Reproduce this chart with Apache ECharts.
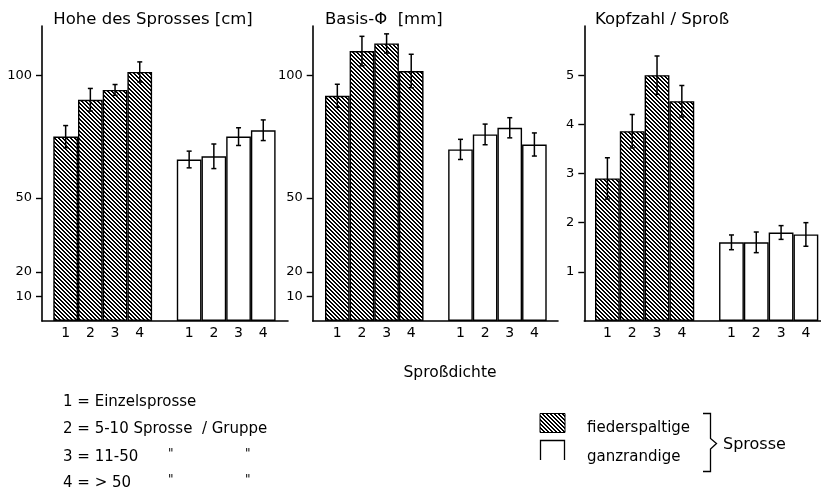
<!DOCTYPE html>
<html>
<head>
<meta charset="utf-8">
<script src="https://cdn.jsdelivr.net/npm/echarts@6/dist/echarts.min.js"></script>
<style>
  html, body { margin: 0; padding: 0; background: #fff; }
  #chart { width: 821px; height: 490px; }
</style>
</head>
<body>
<div id="chart"></div>
<script>
// Sproßdichte classes on the x axis
const categories = ['1', '2', '3', '4'];

// Höhe des Sprosses [cm]
const heightFieder = [75, 90, 94, 101.3];
const heightFiederErr = [4.5, 4.6, 2.2, 4.1];
const heightGanz = [65.7, 67, 75, 77.6];
const heightGanzErr = [3.4, 5, 3.6, 4.2];

// Basis-Φ [mm]
const basisFieder = [91.6, 109.8, 112.9, 101.7];
const basisFiederErr = [4.7, 6, 3.9, 6.8];
const basisGanz = [69.8, 75.9, 78.6, 71.8];
const basisGanzErr = [4.1, 4.2, 4.1, 4.7];

// Kopfzahl / Sproß
const kopfFieder = [2.9, 3.86, 5.0, 4.47];
const kopfFiederErr = [0.42, 0.34, 0.39, 0.32];
const kopfGanz = [1.6, 1.6, 1.8, 1.76];
const kopfGanzErr = [0.15, 0.21, 0.14, 0.24];

// tick labels
const ticksCm = [10, 20, 50, 100];
const ticksKopf = [1, 2, 3, 4, 5];

const titles = ['Hohe des Sprosses [cm]', 'Basis-\u03A6  [mm]', 'Kopfzahl / Sproß'];
const legendLines = ['1 = Einzelsprosse', '2 = 5-10 Sprosse  / Gruppe', '3 = 11-50', '4 = > 50'];

const FONT = '"DejaVu Sans", sans-serif';

// hatching like "\\\\"
function hatch() {
    let c = document.createElement('canvas');
    c.width = 4; c.height = 4;
    let ctx = c.getContext('2d');
    ctx.fillStyle = '#fff';
    ctx.fillRect(0, 0, 4, 4);
    ctx.fillStyle = '#000';
    for (let i = 0; i < 4; i++) {
        ctx.fillRect(i, i, 1, 1);
        ctx.fillRect((i + 1) % 4, i, 1, 1);
    }
    return {image: c, repeat: 'repeat'};
}
const pattern = hatch();

const panels = [
    {fieder: heightFieder, fErr: heightFiederErr, ganz: heightGanz, gErr: heightGanzErr, max: 120, ticks: ticksCm,
     axisL: 42, axisR: 288, barL: 53.3, barR: 275.6},
    {fieder: basisFieder, fErr: basisFiederErr, ganz: basisGanz, gErr: basisGanzErr, max: 120, ticks: ticksCm,
     axisL: 312.7, axisR: 558, barL: 325, barR: 546.7},
    {fieder: kopfFieder, fErr: kopfFiederErr, ganz: kopfGanz, gErr: kopfGanzErr, max: 6, ticks: ticksKopf,
     axisL: 584.3, axisR: 821, barL: 595, barR: 818.3}
];

const TOP = 26, BOTTOM = 169;
const W = 821;
const slots = categories.concat([''], categories);
const gap = ['-', '-', '-', '-', '-'];

let grid = [], xAxis = [], yAxis = [], series = [], graphic = [];

panels.forEach(function (p, k) {
    let outer = 2 * k, inner = 2 * k + 1;
    grid.push({left: p.axisL, right: W - p.axisR, top: TOP, bottom: BOTTOM});
    grid.push({left: p.barL, right: W - p.barR, top: TOP, bottom: BOTTOM});

    xAxis.push({
        gridIndex: outer, type: 'value', min: 0, max: 1,
        axisLine: {show: true, lineStyle: {color: '#000', width: 1.6}},
        axisTick: {show: false}, axisLabel: {show: false}, splitLine: {show: false}
    });
    xAxis.push({
        gridIndex: inner, type: 'category', data: slots,
        axisLine: {show: false}, axisTick: {show: false},
        axisLabel: {interval: 0, margin: 5, color: '#000', fontSize: 14, fontFamily: FONT}
    });

    yAxis.push({
        gridIndex: outer, type: 'value', min: 0, max: p.max,
        axisLine: {show: true, lineStyle: {color: '#000', width: 1.6}},
        axisTick: {show: true, customValues: p.ticks, length: 6, lineStyle: {color: '#000', width: 1.4}},
        axisLabel: {customValues: p.ticks, margin: 10, color: '#000', fontSize: 13, fontFamily: FONT},
        splitLine: {show: false}
    });
    yAxis.push({gridIndex: inner, type: 'value', min: 0, max: p.max, show: false, splitLine: {show: false}});

    series.push({
        type: 'bar', xAxisIndex: inner, yAxisIndex: inner,
        barWidth: '100%', barGap: '-100%',
        data: p.fieder.concat(gap),
        itemStyle: {color: pattern, borderColor: '#000', borderWidth: 1.4}
    });
    series.push({
        type: 'bar', xAxisIndex: inner, yAxisIndex: inner,
        barWidth: '100%', barGap: '-100%',
        data: gap.concat(p.ganz),
        itemStyle: {color: '#fff', borderColor: '#000', borderWidth: 1.4}
    });

    let errData = p.fieder.map(function (v, i) { return [i, v - p.fErr[i], v + p.fErr[i]]; })
        .concat(p.ganz.map(function (v, i) { return [i + 5, v - p.gErr[i], v + p.gErr[i]]; }));
    series.push({
        type: 'custom', xAxisIndex: inner, yAxisIndex: inner, z: 5,
        encode: {x: 0, y: [1, 2]},
        data: errData,
        renderItem: function (params, api) {
            let lo = api.coord([api.value(0), api.value(1)]);
            let hi = api.coord([api.value(0), api.value(2)]);
            let st = {stroke: '#000', lineWidth: 1.5};
            return {
                type: 'group',
                children: [
                    {type: 'line', shape: {x1: lo[0], y1: lo[1], x2: hi[0], y2: hi[1]}, style: st},
                    {type: 'line', shape: {x1: lo[0] - 2.5, y1: lo[1], x2: lo[0] + 2.5, y2: lo[1]}, style: st},
                    {type: 'line', shape: {x1: hi[0] - 2.5, y1: hi[1], x2: hi[0] + 2.5, y2: hi[1]}, style: st}
                ]
            };
        }
    });

    graphic.push({
        type: 'text', left: p.barL, top: 11,
        style: {text: titles[k], fill: '#000', font: '16.5px ' + FONT}
    });
});

graphic.push({
    type: 'text', x: 450, y: 373,
    style: {text: 'Sproßdichte', fill: '#000', font: '15.5px ' + FONT, textAlign: 'center', textVerticalAlign: 'middle'}
});

const rowY = [402, 429.5, 457, 483];
legendLines.forEach(function (t, i) {
    graphic.push({
        type: 'text', x: 63, y: rowY[i],
        style: {text: t, fill: '#000', font: '15px ' + FONT, textVerticalAlign: 'middle'}
    });
});
[2, 3].forEach(function (i) {
    [168, 245].forEach(function (x) {
        graphic.push({
            type: 'text', x: x, y: rowY[i] - 3,
            style: {text: '"', fill: '#000', font: '12px ' + FONT, textVerticalAlign: 'middle'}
        });
    });
});

// legend swatches and brace
graphic.push({
    type: 'rect', shape: {x: 540, y: 413.5, width: 25, height: 19},
    style: {fill: pattern, stroke: '#000', lineWidth: 1}
});
graphic.push({
    type: 'polyline', shape: {points: [[540.5, 460], [540.5, 440.5], [564.5, 440.5], [564.5, 460]]},
    style: {fill: null, stroke: '#000', lineWidth: 1.3}
});
graphic.push({
    type: 'text', x: 587, y: 428,
    style: {text: 'fiederspaltige', fill: '#000', font: '15px ' + FONT, textVerticalAlign: 'middle'}
});
graphic.push({
    type: 'text', x: 587, y: 457,
    style: {text: 'ganzrandige', fill: '#000', font: '15px ' + FONT, textVerticalAlign: 'middle'}
});
graphic.push({
    type: 'polyline',
    shape: {points: [[703, 413.5], [710.5, 413.5], [710.5, 438.5], [716.5, 443.5], [710.5, 449], [710.5, 471.5], [703, 471.5]]},
    style: {fill: null, stroke: '#000', lineWidth: 1.3}
});
graphic.push({
    type: 'text', x: 723, y: 445,
    style: {text: 'Sprosse', fill: '#000', font: '16px ' + FONT, textVerticalAlign: 'middle'}
});

let myChart = echarts.init(document.getElementById('chart'));
myChart.setOption({
    animation: false,
    backgroundColor: '#fff',
    grid: grid,
    xAxis: xAxis,
    yAxis: yAxis,
    series: series,
    graphic: graphic
});
</script>
</body>
</html>
